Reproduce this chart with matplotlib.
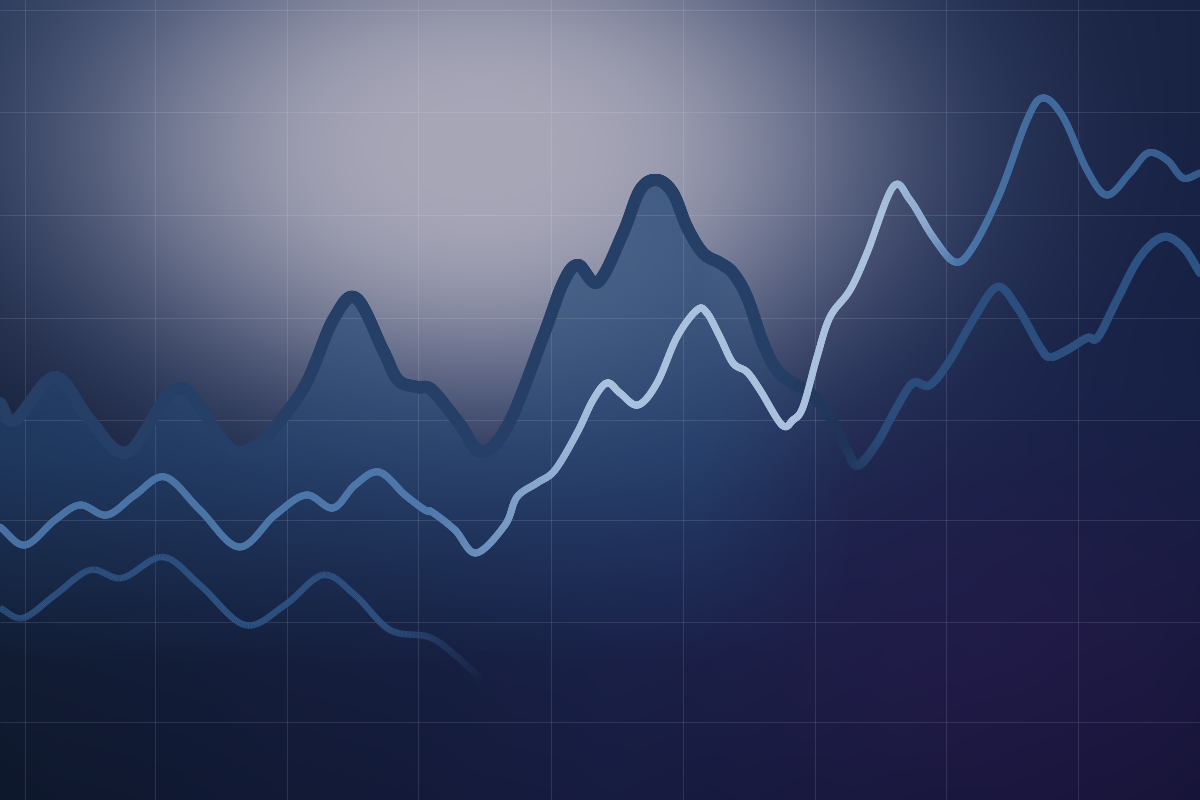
import numpy as np
import matplotlib
matplotlib.use('Agg')
import matplotlib.pyplot as plt
from matplotlib.collections import LineCollection
from matplotlib.colors import to_rgb

#### Data ######################################################################
# Three wavy series (x position, level; level grows upward)

upper_x = [0, 15, 55, 90, 128, 180, 238, 298, 333, 356, 383, 398, 417, 432, 459,
           482, 509, 543, 563, 578, 598, 623, 640, 657, 673, 687, 703, 720, 733, 747,
           763, 777, 793, 810, 830, 847, 858, 877, 897, 913, 930, 950, 973, 997, 1017,
           1040, 1050, 1067, 1087, 1098, 1117, 1140, 1163, 1183, 1200]
upper_y = [397, 380, 423, 380, 348, 412, 348, 403, 480, 502, 450, 420, 413, 410, 377,
           348, 377, 463, 517, 535, 518, 567, 610, 620, 607, 573, 547, 537, 527, 503,
           457, 430, 417, 407, 383, 350, 335, 357, 393, 417, 415, 440, 480, 513, 493,
           453, 443, 450, 462, 463, 500, 543, 563, 553, 527]

bright_x = [0, 25, 55, 80, 107, 135, 165, 200, 239, 275, 306, 333, 355, 379, 405,
            425, 432, 455, 476, 505, 517, 537, 555, 577, 593, 607, 620, 638, 657, 677,
            697, 707, 720, 733, 747, 760, 782, 793, 803, 817, 830, 850, 867, 893, 910,
            933, 955, 973, 1000, 1027, 1043, 1063, 1087, 1107, 1130, 1148, 1167, 1183, 1200]
bright_y = [273, 255, 280, 295, 285, 305, 323, 290, 253, 285, 305, 292, 315, 328, 305,
            290, 288, 270, 247, 275, 303, 317, 330, 367, 400, 417, 407, 395, 417, 463,
            490, 487, 463, 437, 428, 410, 375, 380, 393, 443, 483, 510, 547, 613, 600,
            563, 538, 553, 607, 680, 702, 683, 630, 605, 627, 647, 640, 622, 627]

lower_x = [0, 23, 55, 90, 122, 163, 200, 245, 285, 323, 355, 390, 429, 455, 482]
lower_y = [192, 182, 205, 230, 222, 243, 215, 175, 195, 225, 205, 170, 163, 145, 120]

grid_x = [25, 155, 287, 418, 551, 683, 815, 946, 1078]
grid_y = [790, 688, 585, 482, 380, 280, 178, 78]

W, H = 1200, 800
PX = 0.72  # one pixel in points at dpi 100


def smooth(xs, ys, steps=30):
  # Catmull-Rom curve through the read points, only to draw a smooth stroke
  p = np.column_stack([xs, ys]).astype(float)
  p = np.vstack([2 * p[0] - p[1], p, 2 * p[-1] - p[-2]])
  t = np.linspace(0, 1, steps, endpoint=False)[:, None]
  out = []
  for i in range(1, len(p) - 2):
    p0, p1, p2, p3 = p[i - 1], p[i], p[i + 1], p[i + 2]
    out.append(0.5 * (2 * p1 + (-p0 + p2) * t + (2 * p0 - 5 * p1 + 4 * p2 - p3) * t ** 2
                      + (-p0 + 3 * p1 - 3 * p2 + p3) * t ** 3))
  out.append(p[-2][None])
  return np.vstack(out)


def along(xm, stops, values):
  vals = np.array(values, float)
  if vals.ndim == 1:
    return np.interp(xm, stops, vals)
  return np.column_stack([np.interp(xm, stops, vals[:, k]) for k in range(vals.shape[1])])


def stroke(ax, pts, cstops, colors, wstops, widths, alphas=None, cap='round', z=3):
  segs = np.stack([pts[:-1], pts[1:]], axis=1)
  xm = segs[:, :, 0].mean(axis=1)
  rgb = along(xm, cstops, [to_rgb(c) for c in colors])
  a = np.ones(len(xm)) if alphas is None else along(xm, alphas[0], alphas[1])
  lc = LineCollection(segs, colors=np.column_stack([rgb, a]),
                      linewidths=along(xm, wstops, widths) * PX, capstyle=cap, zorder=z)
  ax.add_collection(lc)


#### Background ################################################################
yy, xx = np.mgrid[0:H, 0:W].astype(float)
corner = np.array([
    [(36, 50, 82), (32, 44, 78), (24, 34, 66)],
    [(24, 34, 62), (28, 40, 80), (22, 32, 68)],
    [(14, 24, 44), (22, 28, 64), (20, 20, 54)],
], float)
wx = [np.clip(1 - np.abs(xx / 600 - k), 0, 1) for k in range(3)]
wy = [np.clip(1 - np.abs(yy / 400 - k), 0, 1) for k in range(3)]
bg = np.zeros((H, W, 3))
for r in range(3):
  for c in range(3):
    bg += (wy[r] * wx[c])[:, :, None] * corner[r, c]
purple = np.exp(-(((xx - 1000) / 280) ** 2 + ((yy - 650) / 200) ** 2))
bg += purple[:, :, None] * np.array([10, 0, 8])
rad = np.sqrt(((xx - 480) / 520) ** 2 + ((yy - 150) / 330) ** 2)
glow = np.exp(-(rad / 0.88) ** 3)[:, :, None]
halo = np.array([80, 100, 140])
core = np.array([168, 167, 184])
glow_col = halo * (1 - glow) + core * glow
bg = bg * (1 - glow) + glow_col * glow
bg = np.clip(bg / 255, 0, 1)

fig = plt.figure(figsize=(12, 8), dpi=100)
ax = fig.add_axes([0, 0, 1, 1])
ax.imshow(bg, extent=(0, W, 0, H), origin='upper', aspect='auto', zorder=0)

#### Fill under the upper line #################################################
up = smooth(upper_x, upper_y)
part = up[up[:, 0] <= 862]
poly = ax.fill_between(part[:, 0], part[:, 1], 0, color='none', lw=0)
fy = np.linspace(H, 0, H)[:, None]
fx = np.linspace(0, W, W)[None, :]
fa = np.interp(fy, [130, 340, 620], [0.0, 0.55, 0.75]) * np.interp(fx, [0, 700, 860], [1, 1, 0])
fill = np.zeros((H, W, 4))
fill[:, :, :3] = np.array([36, 72, 118]) / 255
fill[:, :, 3] = fa
im = ax.imshow(fill, extent=(0, W, 0, H), origin='upper', aspect='auto', zorder=1)
im.set_clip_path(poly.get_paths()[0], transform=ax.transData)

#### Grid ######################################################################
ax.vlines(grid_x, 0, H, color='white', alpha=0.11, lw=1 * PX, zorder=2)
ax.hlines(grid_y, 0, W, color='white', alpha=0.11, lw=1 * PX, zorder=2)

#### Lines #####################################################################
stroke(ax, smooth(lower_x, lower_y), [0, 1200], ['#2f5384', '#2f5384'],
       [0, 1200], [6.5, 6.5], alphas=([0, 380, 490], [1, 1, 0]), cap='butt', z=3)
stroke(ax, up, [0, 780, 845, 885, 1200],
       ['#263f66', '#263f66', '#1f3457', '#2b4b7a', '#2e5284'],
       [0, 800, 885, 1200], [12, 12, 8, 8], z=4)
stroke(ax, smooth(bright_x, bright_y),
       [0, 430, 520, 600, 880, 925, 960, 1200],
       ['#4870a2', '#4e78ab', '#7fa0c8', '#a9c1dd', '#a9c1dd', '#8eabd0', '#4a73a6', '#335a8b'],
       [0, 1200], [7, 7], z=5)

ax.set_xlim(0, W)
ax.set_ylim(0, H)
ax.axis('off')
fig.savefig('out.png', dpi=100)
